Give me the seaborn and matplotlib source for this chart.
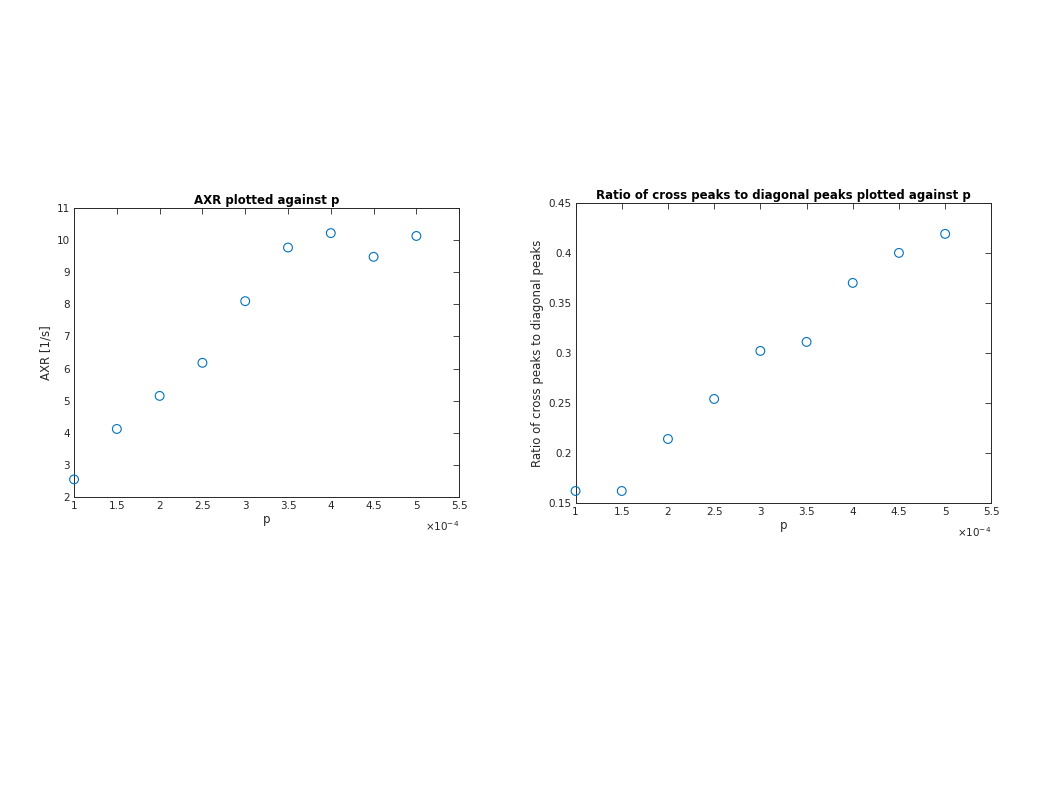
import seaborn as sns
import matplotlib.pyplot as plt
import pandas as pd

p_vals = [1.0, 1.5, 2.0, 2.5, 3.0, 3.5, 4.0, 4.5, 5.0]  # x 1e-4
axr = [2.55, 4.12, 5.15, 6.18, 8.10, 9.77, 10.22, 9.48, 10.13]
ratio = [0.162, 0.162, 0.214, 0.254, 0.302, 0.311, 0.370, 0.400, 0.419]

x_ticks = [1, 1.5, 2, 2.5, 3, 3.5, 4, 4.5, 5, 5.5]
x_ticklabels = ['1', '1.5', '2', '2.5', '3', '3.5', '4', '4.5', '5', '5.5']
axr_ticks = list(range(2, 12))
ratio_ticks = [0.15, 0.2, 0.25, 0.3, 0.35, 0.4, 0.45]
ratio_ticklabels = ['0.15', '0.2', '0.25', '0.3', '0.35', '0.4', '0.45']

df = pd.DataFrame({'p': p_vals, 'axr': axr, 'ratio': ratio})

sns.set_style('white')
plt.rcParams['font.family'] = ['DejaVu Sans']

fig = plt.figure(figsize=(10.58, 7.94), dpi=100)
ax1 = fig.add_axes([0.070, 0.374, 0.364, 0.364])
ax2 = fig.add_axes([0.544, 0.3665, 0.393, 0.378])

mcolor = '#0072BD'
dark = '#262626'


def style_axes(ax, title, ylabel):
    ax.set_xlim(1, 5.5)
    ax.set_xticks(x_ticks)
    ax.set_xticklabels(x_ticklabels)
    ax.tick_params(direction='in', top=True, right=True, length=4,
                   width=0.6, labelsize=7.5, colors=dark, pad=3)
    for s in ax.spines.values():
        s.set_visible(True)
        s.set_color(dark)
        s.set_linewidth(0.7)
    ax.set_title(title, fontsize=8.5, fontweight='bold', pad=3, color='black')
    ax.set_xlabel('p', fontsize=8.5, color=dark, labelpad=1)
    ax.set_ylabel(ylabel, fontsize=8.5, color=dark, labelpad=3)
    ax.text(1.0, -0.075, r'$\times10^{-4}$', transform=ax.transAxes,
            ha='right', va='top', fontsize=7.5, color=dark)


sns.scatterplot(data=df, x='p', y='axr', ax=ax1, marker='o', s=40,
                facecolors='none', edgecolors=mcolor, linewidth=0.8,
                clip_on=False, zorder=3)
ax1.set_ylim(2, 11)
ax1.set_yticks(axr_ticks)
style_axes(ax1, 'AXR plotted against p', 'AXR [1/s]')

sns.scatterplot(data=df, x='p', y='ratio', ax=ax2, marker='o', s=40,
                facecolors='none', edgecolors=mcolor, linewidth=0.8,
                clip_on=False, zorder=3)
ax2.set_ylim(0.15, 0.45)
ax2.set_yticks(ratio_ticks)
ax2.set_yticklabels(ratio_ticklabels)
style_axes(ax2, 'Ratio of cross peaks to diagonal peaks plotted against p',
           'Ratio of cross peaks to diagonal peaks')

fig.savefig('out.png', dpi=100)
